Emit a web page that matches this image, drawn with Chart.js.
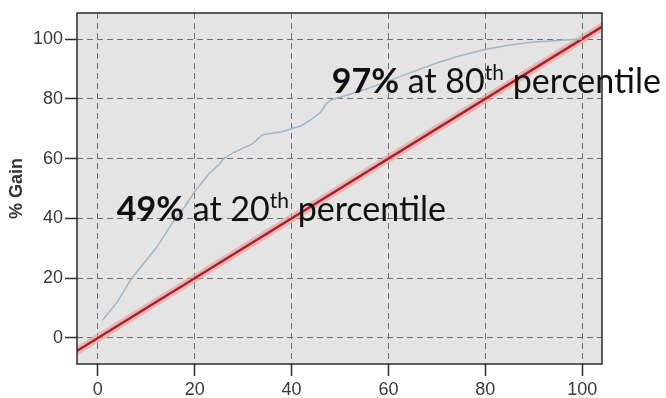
<!DOCTYPE html>
<html>
<head>
<meta charset="utf-8">
<script src="https://cdn.jsdelivr.net/npm/chart.js@4/dist/chart.umd.min.js"></script>
<style>
  html, body { margin: 0; padding: 0; background: #fff; }
</style>
</head>
<body>
<canvas id="gainChart" width="666" height="398"></canvas>
<script>
// cumulative gain curve (% of population vs % gain)
const percentile = [1, 2, 4, 7, 9, 12, 14, 16, 18, 20, 22, 23, 25, 26, 28, 30, 32, 34, 36, 38, 40, 42, 44, 46, 47, 48, 50, 55, 60, 65, 70, 75, 80, 85, 90, 95, 100];
const gain = [6, 8, 12, 20, 24, 30, 35, 40, 44, 49, 53, 55, 58, 60, 62, 63.5, 65, 68, 68.5, 69, 70, 71, 73, 75.5, 78, 79.5, 80.5, 83, 86, 89, 92, 94.5, 96.5, 98, 99, 99.5, 100];

// random-model baseline
const baselineX = [-5, 105];
const baselineY = [-5, 105];

const xTicks = [0, 20, 40, 60, 80, 100];
const yTicks = [0, 20, 40, 60, 80, 100];
const yTitle = '% Gain';

const noteValues = ['49%', '97%'];
const notePercentiles = ['20', '80'];

const toPoints = (xs, ys) => xs.map((x, i) => ({ x: x, y: ys[i] }));

// where the two notes start (data coords)
const notePos = [{ x: 3.9, y: 39 }, { x: 48.3, y: 82 }];

const plotFrame = {
  id: 'plotFrame',
  beforeDraw(chart) {
    const a = chart.chartArea, ctx = chart.ctx;
    ctx.save();
    ctx.fillStyle = '#e4e4e4';
    ctx.fillRect(a.left, a.top, a.right - a.left, a.bottom - a.top);
    ctx.restore();
  },
  afterDraw(chart) {
    const a = chart.chartArea, ctx = chart.ctx;
    ctx.save();
    ctx.strokeStyle = '#2b2b2b';
    ctx.lineWidth = 1.5;
    ctx.strokeRect(a.left, a.top, a.right - a.left, a.bottom - a.top);

    const xs = chart.scales.x, ys = chart.scales.y;
    ctx.fillStyle = '#111';
    ctx.textBaseline = 'alphabetic';
    notePos.forEach((p, i) => {
      let px = xs.getPixelForValue(p.x);
      const py = ys.getPixelForValue(p.y);
      ctx.font = 'bold 34px Lato';
      ctx.fillText(noteValues[i], px, py);
      px += ctx.measureText(noteValues[i]).width;
      ctx.font = '34px Lato';
      const mid = ' at ' + notePercentiles[i];
      ctx.fillText(mid, px, py);
      px += ctx.measureText(mid).width;
      ctx.font = '21px Lato';
      ctx.fillText('th', px, py - 13);
      px += ctx.measureText('th').width;
      ctx.font = '34px Lato';
      ctx.fillText(' percentile', px, py);
    });
    ctx.restore();
  }
};

const axisCommon = {
  type: 'linear',
  grid: {
    color: '#6e6e6e',
    lineWidth: 1,
    tickColor: '#2b2b2b',
    tickWidth: 1.5,
    tickLength: 12,
    tickBorderDash: []
  },
  border: { display: false, dash: [6, 4] },
  ticks: {
    color: '#3a3a3a',
    font: { family: 'Liberation Sans', size: 18 },
    padding: 2
  }
};

new Chart(document.getElementById('gainChart'), {
  type: 'line',
  data: {
    datasets: [
      {
        label: 'baseline glow',
        data: toPoints(baselineX, baselineY),
        borderColor: 'rgba(240,150,150,0.6)',
        borderWidth: 8,
        pointRadius: 0,
        order: 3
      },
      {
        label: 'baseline',
        data: toPoints(baselineX, baselineY),
        borderColor: '#a3242b',
        borderWidth: 2.5,
        pointRadius: 0,
        order: 2
      },
      {
        label: '% Gain',
        data: toPoints(percentile, gain),
        borderColor: 'rgb(160,182,198)',
        borderWidth: 1.5,
        pointRadius: 0,
        tension: 0,
        order: 1
      }
    ]
  },
  options: {
    responsive: false,
    animation: false,
    devicePixelRatio: 1,
    layout: { padding: { top: 13, right: 64, left: 0, bottom: 0 } },
    plugins: {
      legend: { display: false },
      tooltip: { enabled: false }
    },
    scales: {
      x: {
        ...axisCommon,
        min: -4.3,
        max: 104.1,
        afterBuildTicks: s => { s.ticks = xTicks.map(v => ({ value: v })); },
        afterFit: s => { s.height = 34; },
        ticks: { ...axisCommon.ticks, maxRotation: 0, padding: 3 }
      },
      y: {
        ...axisCommon,
        min: -8.7,
        max: 108.7,
        afterBuildTicks: s => { s.ticks = yTicks.map(v => ({ value: v })); },
        afterFit: s => { s.width = 77; },
        title: {
          display: true,
          text: yTitle,
          color: '#333',
          font: { family: 'Liberation Sans', size: 18, weight: 'bold' },
          padding: { top: 6, bottom: 0 }
        }
      }
    }
  },
  plugins: [plotFrame]
});
</script>
</body>
</html>
